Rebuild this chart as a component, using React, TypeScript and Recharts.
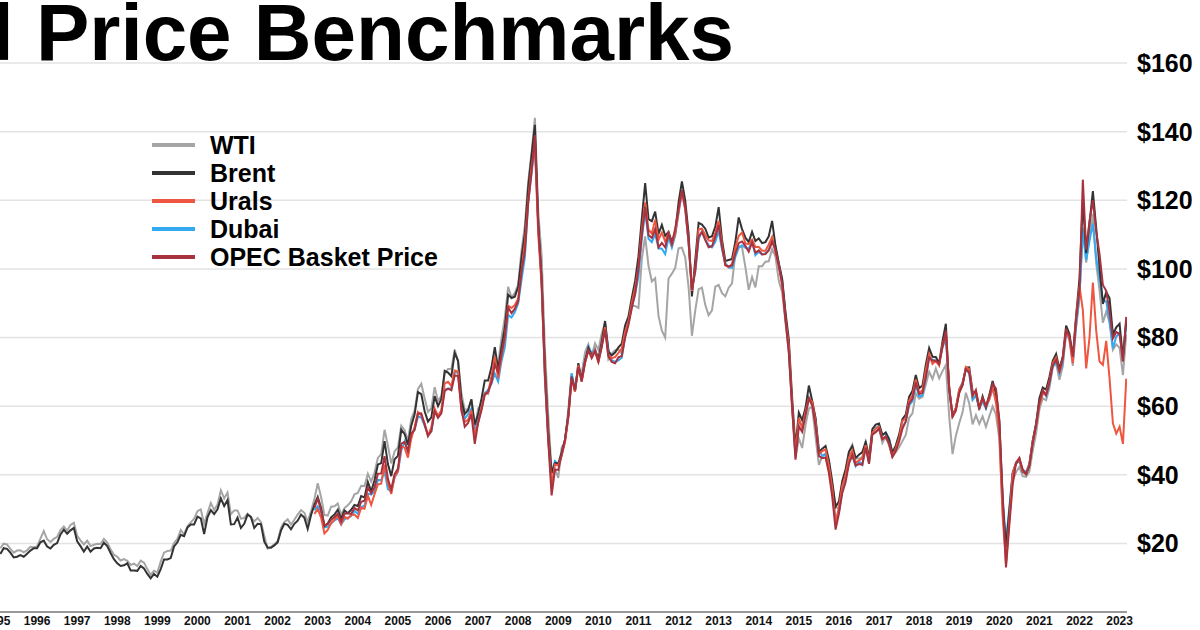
import { LineChart, Line, XAxis, YAxis, CartesianGrid } from 'recharts'

// monthly values, WTI & Brent from Mar 1995, the rest from Jan 2003
const years = [1995, 1996, 1997, 1998, 1999, 2000, 2001, 2002, 2003, 2004, 2005, 2006, 2007, 2008, 2009,
  2010, 2011, 2012, 2013, 2014, 2015, 2016, 2017, 2018, 2019, 2020, 2021, 2022, 2023]
const priceTicks = [20, 40, 60, 80, 100, 120, 140, 160]

const wti = [
  18.6, 19.9, 19.7, 18.4, 17.3, 17.9, 18.0, 17.4, 18.0, 19.0,
  18.9, 19.1, 21.4, 23.6, 21.2, 20.4, 21.3, 21.9, 23.9, 24.9, 23.7, 25.4,
  26.0, 22.2, 20.9, 19.7, 20.8, 19.2, 19.6, 19.9, 19.8, 21.3, 20.2, 18.3,
  16.7, 16.1, 15.0, 15.4, 14.9, 13.7, 14.1, 13.4, 15.0, 14.4, 12.5, 10.8,
  12.0, 11.5, 14.7, 17.3, 17.8, 17.9, 20.1, 21.3, 23.9, 22.6, 25.0, 26.1,
  27.2, 29.4, 29.9, 25.7, 28.8, 31.8, 29.7, 31.3, 35.5, 33.1, 34.8, 28.5,
  29.6, 29.6, 27.2, 27.4, 28.6, 27.6, 26.4, 27.4, 26.2, 22.2, 18.5, 19.0,
  19.7, 20.7, 24.5, 26.2, 27.0, 25.5, 26.9, 28.4, 29.7, 28.9, 26.3, 29.4,
  32.9, 37.5, 33.5, 28.3, 28.1, 30.7, 30.8, 31.6, 28.3, 30.3, 31.1, 32.2,
  34.3, 34.7, 36.8, 36.7, 40.3, 38.0, 40.7, 44.9, 46.0, 53.1, 48.5, 43.3,
  46.8, 48.0, 54.3, 53.0, 50.0, 56.3, 58.7, 65.0, 66.5, 62.3, 58.3, 59.4,
  65.5, 61.6, 62.9, 69.4, 70.8, 70.9, 76.5, 73.0, 63.8, 58.9, 59.1, 62.0,
  53.0, 59.3, 60.4, 63.9, 63.5, 67.5, 74.1, 72.4, 79.9, 85.8, 94.8, 91.7,
  93.0, 95.4, 105.5, 112.6, 125.4, 133.9, 144.0, 116.7, 104.1, 76.6, 57.3, 41.1,
  41.7, 39.1, 47.9, 49.6, 59.0, 69.6, 64.2, 71.1, 69.4, 75.7, 78.0, 74.5,
  78.3, 76.4, 81.2, 84.3, 73.7, 75.3, 76.3, 76.6, 75.2, 81.9, 84.3, 89.2,
  89.2, 88.6, 102.9, 109.5, 100.9, 96.3, 97.3, 86.3, 82.0, 80.0, 97.2, 98.6,
  100.3, 106.0, 106.2, 103.3, 94.7, 80.5, 87.9, 94.1, 94.5, 89.5, 86.5, 87.9,
  94.8, 95.3, 92.9, 92.0, 94.5, 95.8, 104.6, 106.6, 106.3, 100.5, 93.9, 97.6,
  94.6, 100.8, 100.8, 102.1, 102.2, 105.8, 103.6, 96.5, 93.2, 84.4, 75.8, 59.3,
  45.0, 50.6, 47.8, 54.5, 59.3, 59.8, 50.9, 42.9, 45.5, 46.2, 42.4, 37.2,
  30.5, 30.3, 37.5, 40.8, 46.7, 48.8, 44.7, 44.7, 45.2, 49.8, 45.7, 52.0,
  52.5, 53.5, 49.3, 51.1, 48.5, 45.2, 46.6, 48.0, 49.8, 51.6, 56.6, 57.9,
  63.7, 62.2, 62.7, 66.3, 70.0, 67.9, 71.0, 68.1, 70.2, 72.0, 57.0, 46.0,
  51.4, 55.0, 58.2, 63.9, 60.8, 54.7, 57.4, 54.8, 57.0, 54.0, 57.0, 59.9,
  57.5, 50.5, 29.2, 17.0, 28.5, 38.3, 40.7, 42.3, 39.6, 39.4, 40.9, 47.0,
  52.0, 59.0, 62.3, 61.7, 65.2, 71.4, 72.5, 67.7, 71.6, 81.5, 79.2, 71.7,
  83.2, 91.6, 112.0, 101.8, 109.6, 116.0, 101.6, 93.7, 84.3, 87.6, 84.4, 76.4,
  78.0, 77.0, 69.0, 81.0,
]

const brent = [
  16.9, 18.6, 18.4, 17.3, 15.9, 16.1, 16.6, 16.1, 17.0, 17.9,
  18.6, 18.6, 20.3, 20.8, 19.1, 18.5, 19.6, 20.1, 22.6, 24.0, 22.8, 23.8,
  24.5, 20.6, 19.2, 17.6, 19.1, 17.6, 18.5, 18.7, 18.6, 20.2, 19.2, 17.2,
  15.4, 14.2, 13.4, 13.6, 14.2, 12.1, 12.1, 12.0, 13.4, 12.7, 11.1, 9.8,
  11.1, 10.3, 12.5, 15.3, 15.3, 15.7, 19.1, 20.3, 22.5, 22.1, 24.6, 25.5,
  25.5, 27.8, 27.3, 22.7, 27.6, 29.7, 28.5, 29.9, 33.1, 30.9, 32.6, 25.5,
  25.6, 27.5, 24.5, 25.7, 28.4, 27.7, 24.5, 25.7, 25.6, 20.5, 18.8, 18.7,
  19.4, 20.3, 23.7, 25.7, 25.4, 24.1, 25.7, 26.6, 28.4, 27.5, 24.2, 28.3,
  31.2, 33.5, 30.3, 25.0, 25.8, 27.6, 28.4, 29.8, 27.1, 29.6, 28.8, 29.8,
  31.2, 30.9, 33.8, 33.4, 37.9, 35.2, 38.4, 43.0, 43.4, 49.8, 43.1, 39.6,
  44.5, 45.5, 53.1, 51.9, 48.7, 54.3, 57.6, 64.1, 63.5, 58.5, 55.5, 56.7,
  62.9, 60.0, 62.1, 70.3, 69.8, 68.7, 75.5, 73.2, 61.8, 57.7, 58.8, 62.0,
  54.6, 57.6, 62.1, 67.5, 67.5, 71.3, 77.2, 70.8, 77.1, 82.9, 92.5, 91.5,
  91.9, 94.8, 103.3, 110.4, 123.9, 133.1, 142.0, 113.2, 97.2, 71.6, 52.5, 40.4,
  43.4, 43.3, 46.5, 50.2, 57.3, 68.6, 64.4, 72.5, 67.7, 73.2, 77.0, 74.7,
  76.2, 73.8, 78.8, 84.8, 75.9, 74.8, 75.6, 77.1, 78.2, 83.5, 86.1, 91.5,
  96.5, 103.7, 114.6, 125.0, 114.5, 113.9, 116.7, 110.2, 112.8, 109.6, 110.8, 107.9,
  110.7, 119.3, 125.5, 119.8, 110.3, 92.0, 102.6, 113.4, 112.9, 111.7, 109.1, 109.5,
  112.3, 118.0, 108.5, 102.3, 102.6, 102.9, 107.9, 115.0, 111.6, 109.1, 107.8, 110.8,
  108.1, 108.9, 107.5, 107.8, 109.5, 114.0, 106.8, 101.6, 97.1, 87.4, 79.4, 62.3,
  48.0, 58.1, 55.9, 59.5, 66.0, 61.5, 56.6, 46.5, 47.6, 48.4, 44.3, 38.0,
  30.7, 32.2, 38.2, 41.6, 46.7, 48.3, 44.9, 45.8, 46.6, 49.5, 44.7, 53.3,
  54.6, 54.9, 51.6, 52.3, 50.3, 46.4, 48.5, 51.7, 56.2, 57.5, 62.7, 64.4,
  69.1, 65.2, 66.0, 72.1, 76.9, 74.4, 74.3, 72.5, 78.9, 84.0, 64.8, 57.4,
  59.4, 64.0, 66.1, 71.2, 71.3, 64.2, 63.9, 59.0, 62.8, 59.7, 63.2, 67.3,
  63.7, 55.7, 32.0, 19.0, 29.4, 40.3, 43.2, 44.7, 40.9, 40.2, 42.7, 49.9,
  54.8, 62.3, 65.4, 64.8, 68.5, 73.2, 75.2, 70.8, 74.5, 83.5, 81.0, 74.2,
  86.5, 97.1, 120.0, 104.6, 113.3, 122.7, 111.9, 100.5, 89.8, 93.3, 91.4, 80.9,
  83.0, 84.0, 74.0, 85.0,
]

const urals = [
  28.6, 30.0, 27.5, 22.9, 23.9, 25.9, 26.9, 28.0, 25.6, 27.8, 27.2, 28.3,
  28.4, 27.4, 30.4, 30.1, 33.9, 31.2, 34.3, 37.2, 37.4, 42.9, 37.5, 34.4,
  39.4, 41.0, 48.3, 47.9, 45.0, 50.6, 54.0, 58.3, 57.3, 55.0, 51.4, 53.8,
  59.3, 57.1, 58.8, 66.6, 67.1, 65.8, 70.4, 70.1, 58.4, 55.4, 56.0, 58.8,
  51.5, 55.1, 59.6, 63.6, 63.9, 68.7, 74.4, 68.1, 74.5, 79.8, 89.3, 88.6,
  89.5, 91.4, 99.3, 107.6, 120.0, 129.8, 136.0, 110.0, 95.5, 69.0, 50.6, 37.0,
  43.0, 42.7, 45.6, 49.4, 56.6, 68.0, 64.2, 71.9, 67.1, 72.6, 76.2, 74.5,
  76.4, 72.7, 77.6, 83.0, 74.9, 74.0, 74.3, 75.5, 76.8, 81.7, 84.6, 90.0,
  94.5, 100.6, 111.4, 119.4, 111.4, 110.3, 114.3, 108.5, 110.6, 107.9, 110.4, 107.1,
  110.3, 116.7, 122.4, 117.3, 107.7, 93.6, 100.2, 111.5, 111.7, 109.8, 108.3, 108.1,
  110.5, 114.0, 107.1, 101.0, 100.5, 101.4, 106.3, 109.6, 110.6, 107.4, 107.2, 108.5,
  106.4, 106.4, 105.3, 105.3, 107.1, 109.3, 104.8, 101.0, 95.1, 85.4, 77.8, 60.3,
  46.3, 56.5, 53.6, 58.4, 62.4, 61.2, 55.5, 46.0, 46.9, 47.4, 42.6, 36.1,
  26.0, 30.6, 36.8, 40.0, 45.0, 47.1, 43.5, 44.2, 44.8, 48.6, 43.9, 52.1,
  53.5, 54.0, 50.5, 51.2, 49.0, 45.5, 47.6, 50.6, 55.7, 56.4, 61.6, 63.2,
  67.8, 63.9, 64.6, 70.6, 75.2, 72.3, 73.2, 71.8, 77.8, 81.0, 65.6, 56.8,
  59.6, 64.9, 66.6, 71.4, 70.7, 63.8, 64.2, 59.6, 62.0, 59.9, 61.9, 65.4,
  61.0, 52.3, 27.9, 14.0, 26.8, 40.4, 43.6, 44.5, 41.1, 40.3, 43.1, 49.8,
  54.3, 60.5, 63.5, 63.6, 67.2, 72.5, 74.1, 69.8, 73.7, 82.3, 79.4, 72.5,
  86.0, 95.0, 88.0, 71.0, 80.0, 96.0, 82.0, 73.0, 72.0, 79.0, 68.0, 55.0,
  52.0, 54.0, 49.0, 68.0,
]

const dubai = [
  29.7, 30.8, 29.1, 24.6, 24.9, 25.8, 26.7, 27.3, 25.5, 27.0, 27.5, 27.9,
  29.5, 28.6, 30.6, 31.0, 34.5, 34.2, 35.1, 38.5, 38.4, 40.9, 35.8, 35.1,
  39.2, 40.8, 47.0, 49.7, 46.9, 51.4, 53.2, 56.9, 56.7, 54.3, 51.6, 52.6,
  58.5, 57.3, 58.4, 64.9, 65.1, 65.2, 69.6, 70.0, 60.7, 56.3, 57.7, 59.3,
  52.4, 56.0, 59.3, 63.7, 64.8, 66.5, 69.5, 67.2, 73.1, 77.1, 86.6, 85.8,
  87.4, 90.0, 96.8, 103.4, 119.4, 127.8, 136.0, 113.0, 96.5, 67.5, 49.8, 40.6,
  44.0, 43.1, 45.6, 50.1, 57.5, 69.5, 65.0, 71.4, 67.7, 73.2, 77.3, 75.4,
  76.7, 73.8, 77.3, 84.0, 76.6, 73.4, 72.9, 73.3, 74.1, 80.3, 84.4, 89.0,
  92.6, 97.8, 108.7, 116.9, 108.8, 107.8, 110.2, 106.0, 105.9, 104.3, 109.1, 106.2,
  109.8, 116.2, 122.4, 117.3, 107.4, 94.2, 99.1, 108.6, 111.0, 108.6, 106.9, 106.3,
  107.9, 111.1, 105.6, 101.7, 100.4, 100.3, 103.5, 106.1, 106.9, 106.1, 105.9, 107.9,
  104.0, 105.0, 104.2, 104.6, 105.6, 108.0, 106.1, 101.7, 96.9, 86.6, 76.3, 60.2,
  45.6, 55.8, 54.1, 57.6, 62.6, 61.0, 56.1, 47.7, 45.4, 45.9, 41.8, 34.7,
  26.9, 29.0, 35.2, 39.1, 43.6, 45.6, 42.5, 43.9, 42.9, 48.3, 43.3, 52.1,
  53.6, 54.3, 51.4, 52.3, 50.6, 46.5, 47.6, 50.9, 53.9, 55.5, 60.2, 61.4,
  66.3, 62.8, 63.1, 68.2, 74.3, 73.6, 73.1, 72.5, 77.2, 79.4, 65.5, 57.3,
  59.1, 64.8, 66.9, 70.9, 69.4, 61.8, 63.2, 59.4, 61.3, 59.3, 62.1, 64.8,
  64.3, 54.2, 33.7, 20.4, 30.5, 40.8, 43.3, 44.0, 41.5, 40.7, 43.3, 49.8,
  54.8, 60.9, 64.4, 62.9, 66.3, 71.6, 72.9, 69.5, 72.6, 81.7, 80.3, 73.2,
  83.5, 92.4, 111.0, 102.6, 108.2, 113.2, 103.2, 97.4, 90.6, 90.6, 84.6, 76.9,
  80.2, 81.4, 74.0, 84.0,
]

const opec = [
  30.3, 33.0, 29.8, 25.3, 25.6, 26.9, 27.6, 28.6, 26.4, 28.6, 28.8, 28.6,
  30.3, 29.6, 32.1, 32.4, 36.3, 34.6, 36.3, 40.3, 40.4, 45.4, 38.8, 35.7,
  40.2, 41.7, 49.1, 49.6, 46.9, 52.0, 53.1, 57.8, 57.9, 54.6, 51.3, 52.7,
  58.5, 56.6, 57.9, 64.4, 65.1, 64.6, 68.9, 68.8, 59.3, 54.0, 55.1, 57.6,
  49.0, 55.1, 58.7, 63.4, 64.2, 66.9, 72.1, 69.9, 75.2, 80.3, 88.8, 87.1,
  88.4, 90.6, 99.3, 105.2, 119.4, 128.3, 139.0, 112.4, 96.9, 69.2, 49.8, 34.0,
  41.5, 41.4, 45.8, 50.2, 56.9, 68.4, 64.6, 71.4, 67.2, 72.7, 76.3, 74.0,
  76.0, 72.9, 77.2, 82.3, 74.5, 72.9, 72.5, 74.2, 74.6, 79.9, 83.6, 88.6,
  92.8, 100.3, 109.8, 118.1, 109.9, 109.0, 111.6, 106.3, 107.6, 106.3, 110.1, 107.3,
  111.8, 117.5, 122.9, 118.2, 108.1, 93.9, 99.6, 109.5, 110.7, 108.4, 106.3, 106.6,
  109.3, 112.8, 106.4, 101.1, 100.7, 101.0, 104.5, 107.5, 108.0, 106.7, 105.0, 107.7,
  104.7, 105.4, 104.2, 104.3, 105.4, 107.9, 105.6, 100.8, 95.9, 85.1, 75.6, 59.5,
  44.4, 54.1, 52.5, 57.3, 62.2, 60.2, 54.2, 45.5, 44.8, 45.0, 40.5, 33.6,
  24.0, 28.7, 34.7, 37.9, 43.2, 45.8, 42.7, 43.1, 42.9, 47.9, 43.2, 51.7,
  52.4, 53.4, 50.3, 51.1, 49.2, 45.2, 46.9, 49.6, 53.4, 55.5, 60.7, 62.1,
  66.9, 63.5, 63.8, 68.4, 74.1, 73.2, 73.3, 72.3, 77.2, 82.0, 65.3, 56.9,
  58.7, 63.8, 66.4, 70.8, 69.9, 62.9, 64.7, 59.6, 62.4, 59.9, 62.9, 66.5,
  65.1, 56.0, 33.9, 13.0, 25.2, 37.1, 43.4, 44.9, 41.5, 40.1, 42.6, 49.2,
  54.4, 61.1, 64.6, 63.2, 66.9, 71.9, 73.5, 70.3, 73.9, 82.1, 80.4, 74.4,
  85.4, 94.1, 126.0, 105.6, 113.9, 120.0, 111.0, 104.3, 95.3, 93.6, 87.5, 79.7,
  81.6, 81.0, 73.0, 86.0,
]

// drawing order: Dubai sits underneath, OPEC on top
const series = [
  { key: 'wti', name: 'WTI', color: '#a5a5a5' },
  { key: 'dubai', name: 'Dubai', color: '#33a9f2' },
  { key: 'brent', name: 'Brent', color: '#333333' },
  { key: 'urals', name: 'Urals', color: '#ee5640' },
  { key: 'opec', name: 'OPEC Basket Price', color: '#a8323e' },
]
const legendOrder = ['wti', 'brent', 'urals', 'dubai', 'opec']

// WTI/Brent start Mar 1995; others start Jan 2003 (94 months later)
const lateOffset = 94
const data = wti.map((v, i) => {
  const j = i - lateOffset
  return {
    t: 1995 + (2 + i + 0.5) / 12,
    wti: v,
    brent: brent[i],
    urals: j >= 0 ? urals[j] : undefined,
    dubai: j >= 0 ? dubai[j] : undefined,
    opec: j >= 0 ? opec[j] : undefined,
  }
})

const font = '"Liberation Sans", Arial, Helvetica, sans-serif'

function YearTick({ x, y, payload }: any) {
  return (
    <text x={x + 5} y={y} dy={13} textAnchor="middle" fontSize={12} fontWeight="bold" fill="#111" fontFamily={font}>
      {payload.value}
    </text>
  )
}

function LegendBox() {
  return (
    <div style={{ position: 'absolute', left: 152, top: 131, fontFamily: font, fontWeight: 'bold', fontSize: 25 }}>
      {legendOrder.map((k) => {
        const s = series.find((d) => d.key === k)!
        return (
          <div key={k} style={{ display: 'flex', alignItems: 'center', height: 28 }}>
            <span style={{ display: 'inline-block', width: 43, height: 4, background: s.color, marginRight: 15 }} />
            <span style={{ color: '#000', lineHeight: '28px' }}>{s.name}</span>
          </div>
        )
      })}
    </div>
  )
}

export default function App() {
  return (
    <div style={{ position: 'absolute', left: 0, top: 0, width: 1200, height: 630, overflow: 'hidden', background: '#fff' }}>
      <LineChart width={1200} height={630} data={data} margin={{ top: 63, right: 0, bottom: 0, left: 0 }}>
        <CartesianGrid vertical={false} stroke="#e3e3e3" strokeWidth={1.5} />
        <XAxis
          dataKey="t"
          type="number"
          domain={[1995.2, 2023.31]}
          allowDataOverflow
          ticks={years}
          interval={0}
          height={18}
          tickLine={false}
          tickSize={0}
          tickMargin={0}
          axisLine={{ stroke: '#999', strokeWidth: 2 }}
          tick={<YearTick />}
        />
        <YAxis
          orientation="right"
          domain={[0, 160]}
          ticks={priceTicks}
          width={73}
          axisLine={false}
          tickLine={false}
          tickSize={0}
          tickMargin={10}
          tickFormatter={(v) => `$${v}`}
          tick={{ fontSize: 25, fontWeight: 'bold', fill: '#000', fontFamily: font }}
        />
        {series.map((s) => (
          <Line
            key={s.key}
            type="linear"
            dataKey={s.key}
            name={s.name}
            stroke={s.color}
            strokeWidth={2}
            dot={false}
            isAnimationActive={false}
          />
        ))}
      </LineChart>
      <LegendBox />
      <div
        style={{
          position: 'absolute',
          left: -93,
          top: -7,
          fontFamily: font,
          fontWeight: 'bold',
          fontSize: 80,
          lineHeight: '80px',
          whiteSpace: 'nowrap',
          color: '#000',
        }}
      >
        Oil Price Benchmarks
      </div>
    </div>
  )
}
